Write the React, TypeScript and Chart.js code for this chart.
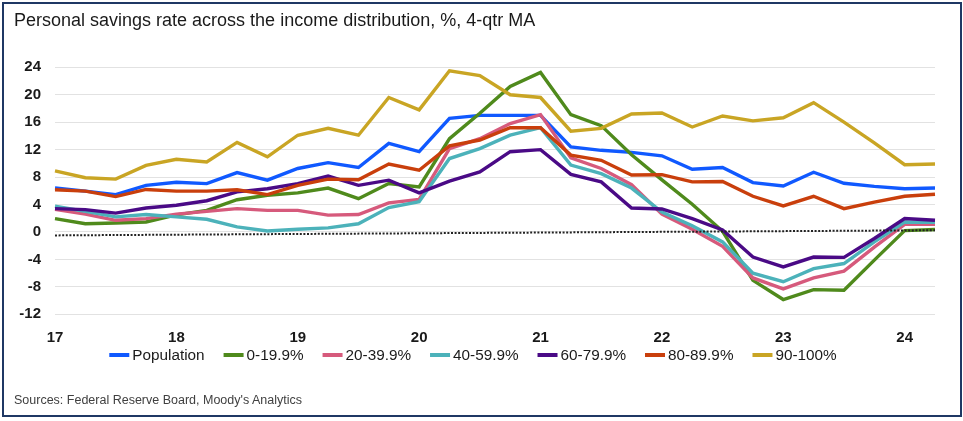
import React, { useEffect, useRef } from 'react';
import { Chart, registerables } from 'chart.js';

Chart.register(...registerables);

// Quarterly observations, 2017Q1 – 2024Q2
const QUARTERS = [
  '2017Q1', '2017Q2', '2017Q3', '2017Q4',
  '2018Q1', '2018Q2', '2018Q3', '2018Q4',
  '2019Q1', '2019Q2', '2019Q3', '2019Q4',
  '2020Q1', '2020Q2', '2020Q3', '2020Q4',
  '2021Q1', '2021Q2', '2021Q3', '2021Q4',
  '2022Q1', '2022Q2', '2022Q3', '2022Q4',
  '2023Q1', '2023Q2', '2023Q3', '2023Q4',
  '2024Q1', '2024Q2',
];

// Year labels shown under each Q1
const YEAR_TICKS = ['17', '18', '19', '20', '21', '22', '23', '24'];

const Y_TICKS_MIN = -12;
const Y_TICKS_MAX = 24;
const Y_TICKS_STEP = 4;

const SERIES_NAMES = ['Population', '0-19.9%', '20-39.9%', '40-59.9%', '60-79.9%', '80-89.9%', '90-100%'];

const POPULATION = [6.4, 5.95, 5.45, 6.8, 7.25, 7.05, 8.65, 7.55, 9.25, 10.1, 9.4, 12.9, 11.7, 16.55, 17.0, 17.0, 17.0, 12.4, 11.9, 11.6, 11.1, 9.15, 9.4, 7.2, 6.7, 8.7, 7.1, 6.65, 6.3, 6.4];
const PCT_0_19 = [1.95, 1.2, 1.3, 1.45, 2.5, 3.15, 4.7, 5.35, 5.7, 6.4, 4.85, 7.05, 6.55, 13.6, 17.3, 21.2, 23.25, 17.1, 15.5, 11.25, 7.6, 4.05, 0.1, -7.05, -9.85, -8.4, -8.5, -4.1, 0.2, 0.35];
const PCT_20_39 = [3.3, 2.6, 1.7, 1.95, 2.6, 3.0, 3.4, 3.15, 3.15, 2.45, 2.55, 4.25, 4.75, 12.15, 13.6, 15.8, 17.1, 10.8, 9.25, 6.9, 2.6, 0.4, -2.1, -6.7, -8.3, -6.7, -5.7, -2.2, 1.1, 1.1];
const PCT_40_59 = [3.75, 3.0, 2.2, 2.55, 2.2, 1.85, 0.75, 0.15, 0.4, 0.6, 1.2, 3.55, 4.4, 10.7, 12.15, 14.1, 15.2, 9.75, 8.5, 6.4, 2.9, 0.9, -1.45, -6.0, -7.25, -5.35, -4.6, -1.45, 1.45, 1.4];
const PCT_60_79 = [3.4, 3.25, 2.75, 3.5, 3.9, 4.55, 5.85, 6.3, 7.05, 8.15, 6.8, 7.55, 5.7, 7.4, 8.75, 11.7, 12.0, 8.4, 7.3, 3.5, 3.35, 1.95, 0.3, -3.65, -5.1, -3.65, -3.7, -0.95, 1.95, 1.7];
const PCT_80_89 = [6.15, 5.95, 5.15, 6.2, 5.95, 5.95, 6.15, 5.45, 6.8, 7.7, 7.6, 9.9, 9.0, 12.55, 13.4, 15.2, 15.2, 11.2, 10.45, 8.3, 8.35, 7.3, 7.35, 5.2, 3.8, 5.2, 3.4, 4.35, 5.2, 5.5];
const PCT_90_100 = [8.9, 7.9, 7.7, 9.7, 10.6, 10.2, 13.05, 10.95, 14.1, 15.1, 14.1, 19.6, 17.8, 23.5, 22.8, 20.0, 19.6, 14.7, 15.1, 17.2, 17.35, 15.3, 16.9, 16.2, 16.65, 18.85, 16.0, 13.0, 9.8, 9.9];

const SERIES_VALUES = [POPULATION, PCT_0_19, PCT_20_39, PCT_40_59, PCT_60_79, PCT_80_89, PCT_90_100];
const SERIES_COLORS = ['#1059ff', '#4f8a1c', '#d65a7c', '#4cb2ba', '#4a0a86', '#c93f0c', '#c9a524'];

// Dotted reference line near zero (start and end values)
const ZERO_LINE_START = -0.5;
const ZERO_LINE_END = 0.25;

const FONT_FAMILY = '"Liberation Sans", Arial, Helvetica, sans-serif';
const TEXT_COLOR = '#1a1a1a';

// Line-style legend drawn beneath the axis
const lineLegend = {
  id: 'lineLegend',
  afterDraw(chart: any) {
    const ctx = chart.ctx as CanvasRenderingContext2D;
    const items = chart.data.datasets.filter((d: any) => d.inLegend);
    const boxW = 20;
    const boxH = 4;
    const gap = 3;
    const spacing = 19;
    const centerX = 473;
    const centerY = 355;
    ctx.save();
    ctx.font = `15.3px ${FONT_FAMILY}`;
    const widths = items.map((d: any) => boxW + gap + ctx.measureText(d.label).width);
    const total = widths.reduce((a: number, b: number) => a + b, 0) + spacing * (items.length - 1);
    let x = centerX - total / 2;
    ctx.textBaseline = 'middle';
    ctx.textAlign = 'left';
    items.forEach((d: any, i: number) => {
      ctx.fillStyle = d.borderColor;
      ctx.fillRect(x, centerY - boxH / 2, boxW, boxH);
      ctx.fillStyle = TEXT_COLOR;
      ctx.fillText(d.label, x + boxW + gap, centerY + 1);
      x += widths[i] + spacing;
    });
    ctx.restore();
  },
};

function SavingsChart() {
  const canvasRef = useRef<HTMLCanvasElement | null>(null);

  useEffect(() => {
    const canvas = canvasRef.current;
    if (!canvas) return;
    const n = SERIES_NAMES.length;
    const lastIndex = QUARTERS.length - 1;
    const zeroLine = QUARTERS.map((_, i) => (i === 0 ? ZERO_LINE_START : i === lastIndex ? ZERO_LINE_END : null));

    const datasets: any[] = SERIES_NAMES.map((name, i) => ({
      label: name,
      data: SERIES_VALUES[i],
      borderColor: SERIES_COLORS[i],
      backgroundColor: SERIES_COLORS[i],
      borderWidth: 3.4,
      pointRadius: 0,
      tension: 0,
      fill: false,
      order: n - i,
      inLegend: true,
    }));
    datasets.push({
      label: 'zero',
      data: zeroLine,
      borderColor: '#222222',
      borderWidth: 2,
      borderDash: [2, 1.6],
      pointRadius: 0,
      spanGaps: true,
      fill: false,
      order: 0,
      inLegend: false,
    });

    const tickFont = { family: FONT_FAMILY, size: 15, weight: 'bold' as const };

    const chart = new Chart(canvas, {
      type: 'line',
      data: { labels: QUARTERS, datasets },
      options: {
        responsive: false,
        animation: false,
        devicePixelRatio: 1,
        layout: { padding: { left: 0, right: 28, top: 67.3, bottom: 66.7 } },
        plugins: {
          legend: { display: false },
          tooltip: { enabled: false },
          title: { display: false },
        },
        scales: {
          x: {
            grid: { display: false, drawTicks: false },
            border: { display: false },
            ticks: {
              autoSkip: false,
              maxRotation: 0,
              minRotation: 0,
              padding: 15,
              color: TEXT_COLOR,
              font: tickFont,
              callback: (_v: any, i: number) => (i % 4 === 0 ? YEAR_TICKS[i / 4] : ''),
            },
            afterFit: (s: any) => {
              s.height = 40;
            },
          },
          y: {
            min: Y_TICKS_MIN,
            max: Y_TICKS_MAX,
            ticks: {
              stepSize: Y_TICKS_STEP,
              padding: 14,
              color: TEXT_COLOR,
              font: tickFont,
            },
            grid: { color: '#e2e2e2', lineWidth: 1, drawTicks: false },
            border: { display: false },
            afterFit: (s: any) => {
              s.width = 55;
            },
          },
        },
      },
      plugins: [lineLegend],
    });

    return () => chart.destroy();
  }, []);

  return (
    <div style={{ position: 'absolute', left: 0, top: 0, width: 963, height: 421, background: '#ffffff', fontFamily: FONT_FAMILY }}>
      <canvas ref={canvasRef} width={963} height={421} style={{ position: 'absolute', left: 0, top: 0, width: 963, height: 421 }} />
      <div style={{ position: 'absolute', left: 14, top: 9, fontSize: 18, lineHeight: '22px', color: TEXT_COLOR, whiteSpace: 'nowrap' }}>
        Personal savings rate across the income distribution, %, 4-qtr MA
      </div>
      <div style={{ position: 'absolute', left: 14, top: 392, fontSize: 12.5, lineHeight: '16px', color: '#404040', whiteSpace: 'nowrap' }}>
        Sources: Federal Reserve Board, Moody's Analytics
      </div>
      <div
        style={{
          position: 'absolute',
          left: 2,
          top: 2,
          width: 960,
          height: 415,
          boxSizing: 'border-box',
          border: '2px solid #1f3864',
          pointerEvents: 'none',
        }}
      />
    </div>
  );
}

export default function App() {
  return <SavingsChart />;
}
